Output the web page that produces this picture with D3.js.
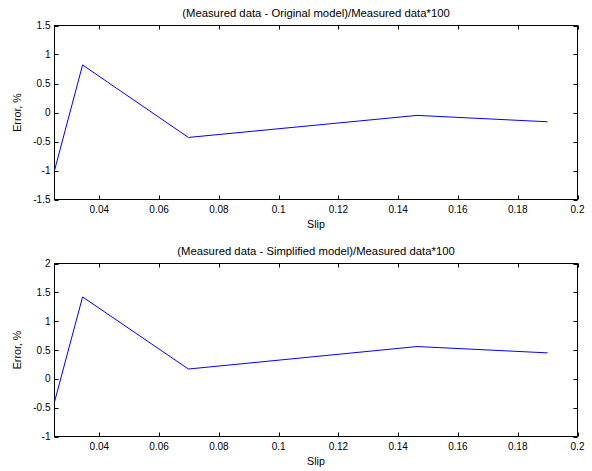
<!DOCTYPE html>
<html>
<head>
<meta charset="utf-8">
<script src="https://cdn.jsdelivr.net/npm/d3@7"></script>
<style>
  body { margin: 0; background: #fff; }
  svg { display: block; }
  text { font-family: "Liberation Sans", Arial, sans-serif; font-size: 10px; fill: #000; }
  .title { font-size: 11.3px; }
  .label { font-size: 10.7px; }
</style>
</head>
<body>
<svg id="chart" width="592" height="471"></svg>
<script>
// slip values shared by both panels
const slip = [0.025, 0.0344, 0.0698, 0.1463, 0.19];
const errOriginal = [-1.0, 0.82, -0.43, -0.05, -0.16];
const errSimplified = [-0.4, 1.42, 0.17, 0.56, 0.45];

const xTicks = [0.04, 0.06, 0.08, 0.1, 0.12, 0.14, 0.16, 0.18, 0.2];
const yTicksTop = [-1.5, -1, -0.5, 0, 0.5, 1, 1.5];
const yTicksBottom = [-1, -0.5, 0, 0.5, 1, 1.5, 2];

const svg = d3.select("#chart");
const left = 54.5, right = 577.5;

const panels = [
  { title: "(Measured data - Original model)/Measured data*100", values: errOriginal,
    yDomain: [-1.5, 1.5], yTicks: yTicksTop, top: 25.5, bottom: 199.5 },
  { title: "(Measured data - Simplified model)/Measured data*100", values: errSimplified,
    yDomain: [-1, 2], yTicks: yTicksBottom, top: 263.5, bottom: 436.5 }
];

const fmt = d => String(d);

panels.forEach(p => {
  const x = d3.scaleLinear().domain([0.025, 0.2]).range([left, right]);
  const y = d3.scaleLinear().domain(p.yDomain).range([p.bottom, p.top]);
  const g = svg.append("g");
  const tl = 4;

  // box
  g.append("rect")
    .attr("x", left).attr("y", p.top)
    .attr("width", right - left).attr("height", p.bottom - p.top)
    .attr("fill", "none").attr("stroke", "#000").attr("stroke-width", 1);

  // x ticks (inward, top and bottom)
  xTicks.forEach(t => {
    const px = Math.round(x(t)) + 0.5;
    g.append("line").attr("x1", px).attr("x2", px).attr("y1", p.bottom).attr("y2", p.bottom - tl).attr("stroke", "#000");
    g.append("line").attr("x1", px).attr("x2", px).attr("y1", p.top).attr("y2", p.top + tl).attr("stroke", "#000");
    g.append("text").attr("x", x(t)).attr("y", p.bottom + 13)
      .attr("text-anchor", "middle").text(fmt(t));
  });

  // y ticks (inward, left and right)
  p.yTicks.forEach(t => {
    const py = Math.round(y(t)) + 0.5;
    g.append("line").attr("x1", left).attr("x2", left + tl).attr("y1", py).attr("y2", py).attr("stroke", "#000");
    g.append("line").attr("x1", right).attr("x2", right - tl).attr("y1", py).attr("y2", py).attr("stroke", "#000");
    g.append("text").attr("x", left - 4).attr("y", y(t)).attr("dy", "0.35em")
      .attr("text-anchor", "end").text(fmt(t));
  });

  // data line
  const line = d3.line().x((d, i) => x(slip[i])).y(d => y(d));
  g.append("path").datum(p.values)
    .attr("d", line)
    .attr("fill", "none").attr("stroke", "#0000ff").attr("stroke-width", 1);

  // labels
  g.append("text").attr("class", "title").attr("x", (left + right) / 2).attr("y", p.top - 9)
    .attr("text-anchor", "middle").text(p.title);
  g.append("text").attr("class", "label").attr("x", (left + right) / 2).attr("y", p.bottom + 28)
    .attr("text-anchor", "middle").text("Slip");
  g.append("text").attr("class", "label")
    .attr("transform", `translate(21,${(p.top + p.bottom) / 2}) rotate(-90)`)
    .attr("text-anchor", "middle").text("Error, %");
});
</script>
</body>
</html>
